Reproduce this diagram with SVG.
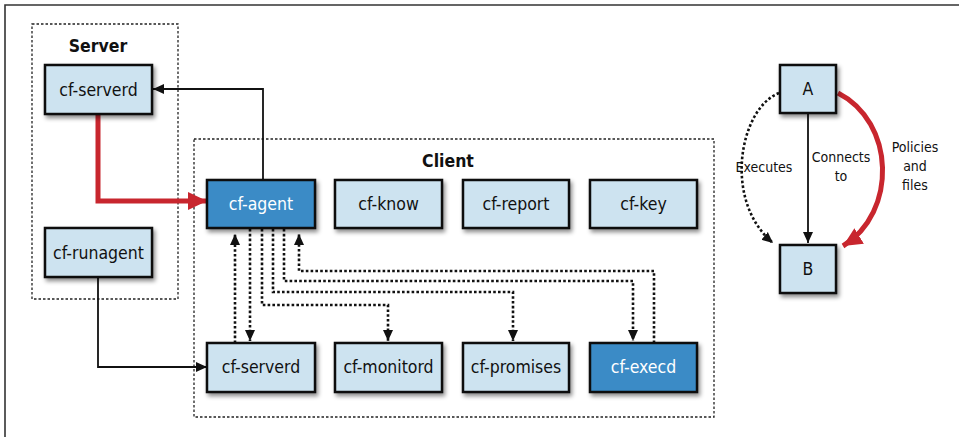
<svg xmlns="http://www.w3.org/2000/svg" width="959" height="437" viewBox="0 0 959 437">
<style>
text{font-family:"Liberation Sans Narrow","DejaVu Sans Condensed","Liberation Sans",sans-serif;text-anchor:middle}
.lbl{font-size:17.5px;fill:#111}
.lblw{font-size:17.5px;fill:#fff}
.title{font-size:17.5px;font-weight:bold;fill:#111}
.leg{font-size:14px;fill:#111}
.box{fill:#cde3f0;stroke:#111;stroke-width:2.5}
.dark{fill:#3a8bc6;stroke:#111;stroke-width:2.5}
.grp{fill:none;stroke:#222;stroke-width:1.3;stroke-dasharray:2.5,2}
.solid{fill:none;stroke:#111;stroke-width:1.8}
.dot{fill:none;stroke:#111;stroke-width:2.6;stroke-dasharray:2.6,2.2}
.red{fill:none;stroke:#c8262e;stroke-width:5}
</style>
<defs>
<filter id="sh" x="-20%" y="-20%" width="150%" height="160%">
<feDropShadow dx="2" dy="3" stdDeviation="2" flood-color="#000" flood-opacity="0.45"/>
</filter>
<marker id="ah" markerUnits="userSpaceOnUse" markerWidth="12" markerHeight="12" viewBox="0 0 12 12" refX="11" refY="6" orient="auto">
<path d="M0,1 L11,6 L0,11 Z" fill="#111"/>
</marker>
<marker id="ahr" markerUnits="userSpaceOnUse" markerWidth="20" markerHeight="20" viewBox="0 0 20 20" refX="19" refY="10" orient="auto">
<path d="M0,1 L19,10 L0,19 Z" fill="#c8262e"/>
</marker>
</defs>
<rect width="959" height="437" fill="#fff"/>
<path d="M5,437 V5 H959" fill="none" stroke="#333" stroke-width="1.6"/>

<g id="server-group">
<rect class="grp" x="32" y="24" width="146" height="275"/>
<text class="title" x="98" y="52">Server</text>
</g>
<g id="client-group">
<rect class="grp" x="194" y="139" width="520" height="278"/>
<text class="title" x="448" y="167">Client</text>
</g>

<g id="connectors">
<path class="solid" d="M263,180 V89 H153" marker-end="url(#ah)"/>
<path class="red" d="M98,114 V201 H207" marker-end="url(#ahr)"/>
<path class="solid" d="M98,277 V367 H207" marker-end="url(#ah)"/>
<path class="dot" d="M235,343 V234" marker-end="url(#ah)"/>
<path class="dot" d="M250,229 V341" marker-end="url(#ah)"/>
<path class="dot" d="M262,229 V305 H388 V341" marker-end="url(#ah)"/>
<path class="dot" d="M273,229 V292 H513 V341" marker-end="url(#ah)"/>
<path class="dot" d="M284,229 V281 H633 V341" marker-end="url(#ah)"/>
<path class="dot" d="M654,343 V271 H299 V234" marker-end="url(#ah)"/>
<path class="solid" d="M808,113 V243" marker-end="url(#ah)"/>
<path class="dot" d="M779,93 C740,108 722,200 773,243" marker-end="url(#ah)"/>
<path class="red" d="M838,93 C895,122 898,212 843,246" marker-end="url(#ahr)"/>
</g>

<g id="srv-serverd"><rect class="box" filter="url(#sh)" x="45" y="65" width="107" height="49"/><text class="lbl" x="98.5" y="96">cf-serverd</text></g>
<g id="srv-runagent"><rect class="box" filter="url(#sh)" x="45" y="228" width="107" height="49"/><text class="lbl" x="98.5" y="259">cf-runagent</text></g>

<g id="cf-agent"><rect class="dark" filter="url(#sh)" x="207" y="180" width="108" height="48"/><text class="lblw" x="261" y="210">cf-agent</text></g>
<g id="cf-know"><rect class="box" filter="url(#sh)" x="335" y="180" width="107" height="48"/><text class="lbl" x="388.5" y="210">cf-know</text></g>
<g id="cf-report"><rect class="box" filter="url(#sh)" x="463" y="180" width="106" height="48"/><text class="lbl" x="516" y="210">cf-report</text></g>
<g id="cf-key"><rect class="box" filter="url(#sh)" x="590" y="180" width="107" height="48"/><text class="lbl" x="643.5" y="210">cf-key</text></g>

<g id="cli-serverd"><rect class="box" filter="url(#sh)" x="207" y="343" width="108" height="49"/><text class="lbl" x="261" y="373">cf-serverd</text></g>
<g id="cf-monitord"><rect class="box" filter="url(#sh)" x="335" y="343" width="107" height="49"/><text class="lbl" x="388.5" y="373">cf-monitord</text></g>
<g id="cf-promises"><rect class="box" filter="url(#sh)" x="463" y="343" width="106" height="49"/><text class="lbl" x="516" y="373">cf-promises</text></g>
<g id="cf-execd"><rect class="dark" filter="url(#sh)" x="590" y="343" width="107" height="49"/><text class="lblw" x="643.5" y="373">cf-execd</text></g>

<g id="leg-A"><rect class="box" filter="url(#sh)" x="780" y="65" width="56" height="48"/><text class="lbl" x="808" y="95">A</text></g>
<g id="leg-B"><rect class="box" filter="url(#sh)" x="780" y="245" width="56" height="48"/><text class="lbl" x="808" y="275">B</text></g>

<g id="legend-labels">
<text class="leg" x="764" y="172">Executes</text>
<text class="leg" x="841" y="162">Connects</text>
<text class="leg" x="841" y="181">to</text>
<text class="leg" x="915" y="152">Policies</text>
<text class="leg" x="915" y="171">and</text>
<text class="leg" x="915" y="190">files</text>
</g>
</svg>
